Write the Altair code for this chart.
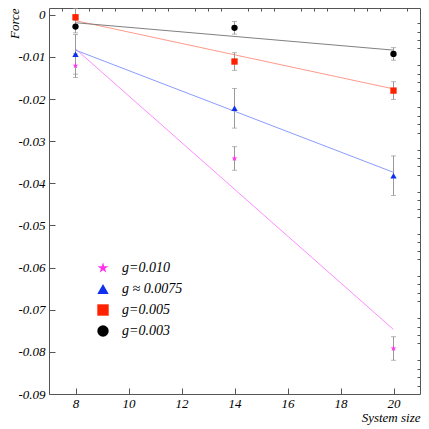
import altair as alt
import pandas as pd

# ---- data ----
sizes = [8, 14, 20]
series = ["g=0.010", "g ≈ 0.0075", "g=0.005", "g=0.003"]

force_g010 = [-0.0121, -0.0341, -0.0792]
err_g010 = [0.0028, 0.0028, 0.0028]
force_g0075 = [-0.0094, -0.0222, -0.0382]
err_g0075 = [0.0047, 0.0047, 0.0047]
force_g005 = [-0.0006, -0.0111, -0.0180]
err_g005 = [0.0021, 0.0021, 0.0021]
force_g003 = [-0.0028, -0.0031, -0.0093]
err_g003 = [0.0015, 0.0015, 0.0015]

fit_x = [8, 20]
fit_g010 = [-0.0081, -0.0747]
fit_g0075 = [-0.0084, -0.0374]
fit_g005 = [-0.0014, -0.0176]
fit_g003 = [-0.0019, -0.0084]

x_major = [8, 10, 12, 14, 16, 18, 20]
x_minor = [7.5, 8.5, 9, 9.5, 10.5, 11, 11.5, 12.5, 13, 13.5, 14.5, 15, 15.5,
           16.5, 17, 17.5, 18.5, 19, 19.5, 20.5]
y_major = [0, -0.01, -0.02, -0.03, -0.04, -0.05, -0.06, -0.07, -0.08, -0.09]
y_minor = [round(-0.002 * i, 3) for i in range(1, 46) if i % 5 != 0]

marker_colors = ["#ff33ee", "#1030f0", "#ff2200", "#000000"]
line_colors = ["#ff8cff", "#8a9cff", "#ff9a8a", "#808080"]
STAR = ("M0,-1L0.223,-0.307L0.951,-0.309L0.361,0.117L0.588,0.809L0,0.38"
        "L-0.588,0.809L-0.361,0.117L-0.951,-0.309L-0.223,-0.307Z")
shapes = [STAR, "triangle-up", "square", "circle"]

# ---- tables ----
forces = [force_g010, force_g0075, force_g005, force_g003]
errs = [err_g010, err_g0075, err_g005, err_g003]
fits = [fit_g010, fit_g0075, fit_g005, fit_g003]

rows = []
for s, f, e in zip(series, forces, errs):
    for x, v, d in zip(sizes, f, e):
        rows.append({"series": s, "size": x, "force": v, "lo": v - d, "hi": v + d})
pts = pd.DataFrame(rows)

FONT = "Liberation Serif"
xs = alt.Scale(domain=[7, 21], nice=False, zero=False)
ys = alt.Scale(domain=[-0.09, 0.0016], nice=False, zero=False)
TICK = "#555555"

x_major_axis = alt.Axis(values=x_major, tickSize=6, offset=-6, domain=False, grid=False,
                        tickColor=TICK, labelPadding=3,
                        title="System size",
                        titleX=371, titleY=33, titleAlign="right",
                        titleBaseline="alphabetic")
x_minor_axis = alt.Axis(values=x_minor, tickSize=3, offset=-3, domain=False, grid=False,
                        tickColor=TICK, labels=False, title=None)
y_major_axis = alt.Axis(values=y_major, tickSize=6, offset=-6, domain=False, grid=False,
                        tickColor=TICK, labelPadding=4,
                        format=".2~f", labelExpr="replace(datum.label, '−', '-')",
                        title="Force",
                        titleAngle=270, titleX=-37, titleY=0, titleAlign="right",
                        titleBaseline="alphabetic")
y_minor_axis = alt.Axis(values=y_minor, tickSize=3, offset=-3, domain=False, grid=False,
                        tickColor=TICK, labels=False, title=None)

legend = alt.Legend(title=None, orient="none", legendX=47, legendY=253,
                    symbolSize=130, symbolStrokeWidth=0,
                    labelOffset=12, rowPadding=7, padding=0)

# fit lines, one layer per series
line_layers = []
for i, (s, f) in enumerate(zip(series, fits)):
    df = pd.DataFrame({"size": fit_x, "force": f})
    if i == 0:
        xe = alt.X("size:Q", scale=xs, axis=x_major_axis)
        ye = alt.Y("force:Q", scale=ys, axis=y_major_axis)
    else:
        xe = alt.X("size:Q", scale=xs, axis=None)
        ye = alt.Y("force:Q", scale=ys, axis=None)
    line_layers.append(
        alt.Chart(df).mark_line(strokeWidth=1, color=line_colors[i]).encode(x=xe, y=ye)
    )

bars = alt.Chart(pts).mark_rule(color="#999999", strokeWidth=1).encode(
    x=alt.X("size:Q", scale=xs, axis=x_minor_axis),
    y=alt.Y("lo:Q", scale=ys, axis=y_minor_axis),
    y2="hi:Q",
)
cap_lo = alt.Chart(pts).mark_tick(color="#999999", orient="horizontal", size=5, thickness=1).encode(
    x=alt.X("size:Q", scale=xs, axis=None),
    y=alt.Y("lo:Q", scale=ys, axis=None),
)
cap_hi = alt.Chart(pts).mark_tick(color="#999999", orient="horizontal", size=5, thickness=1).encode(
    x=alt.X("size:Q", scale=xs, axis=None),
    y=alt.Y("hi:Q", scale=ys, axis=None),
)

points = alt.Chart(pts).mark_point(filled=True, opacity=1, size=40).encode(
    x=alt.X("size:Q", scale=xs, axis=None),
    y=alt.Y("force:Q", scale=ys, axis=None),
    color=alt.Color("series:N", scale=alt.Scale(domain=series, range=marker_colors),
                    legend=legend),
    shape=alt.Shape("series:N", scale=alt.Scale(domain=series, range=shapes), legend=legend),
)

chart = alt.layer(*line_layers, bars, cap_lo, cap_hi, points).resolve_axis(
    x="independent", y="independent"
).properties(
    width=371, height=386,
    autosize=alt.AutoSizeParams(type="none"),
    padding={"left": 41, "top": 0, "right": 1, "bottom": 34},
).configure(
    font=FONT
).configure_axis(
    labelFont=FONT, labelFontStyle="italic", labelFontSize=13, labelColor="#000",
    titleFont=FONT, titleFontStyle="italic", titleFontWeight="normal",
    titleFontSize=13, titleColor="#000",
).configure_legend(
    labelFont=FONT, labelFontStyle="italic", labelFontSize=14, labelColor="#000",
).configure_view(stroke="#555555", strokeWidth=1)

chart.save("out.html", embed_options={"renderer": "svg", "actions": False})
